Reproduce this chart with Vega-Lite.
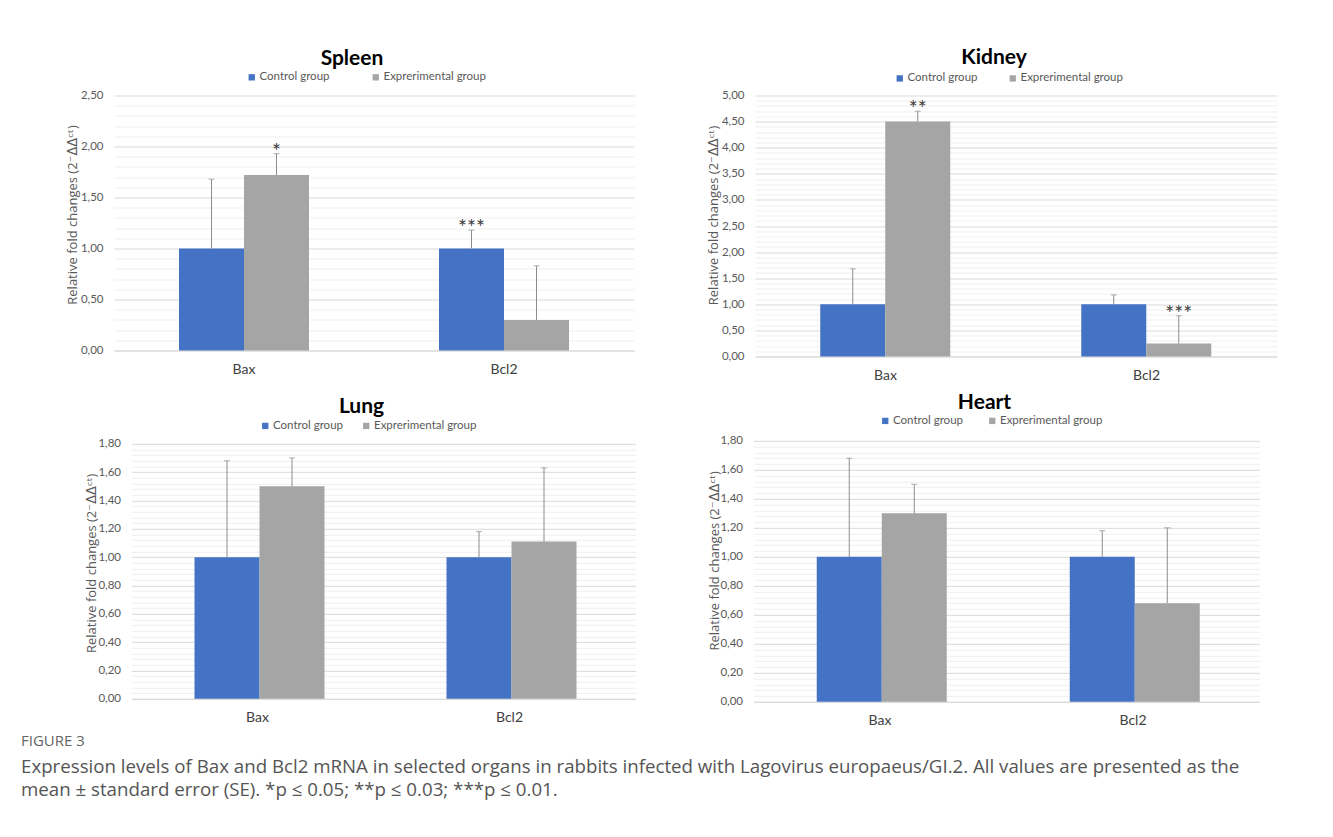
{
  "$schema": "https://vega.github.io/schema/vega-lite/v6.json",
  "padding": {"left": 20, "top": 46.5, "right": 5, "bottom": 5},
  "background": "white",
  "datasets": {
    "spleen": [
      {"gene": "Bax", "group": "Control group", "value": 1.00, "upper": 1.68, "sig": ""},
      {"gene": "Bax", "group": "Exprerimental group", "value": 1.72, "upper": 1.93, "sig": "*"},
      {"gene": "Bcl2", "group": "Control group", "value": 1.00, "upper": 1.18, "sig": "***"},
      {"gene": "Bcl2", "group": "Exprerimental group", "value": 0.30, "upper": 0.83, "sig": ""}
    ],
    "kidney": [
      {"gene": "Bax", "group": "Control group", "value": 1.00, "upper": 1.68, "sig": ""},
      {"gene": "Bax", "group": "Exprerimental group", "value": 4.50, "upper": 4.70, "sig": "**"},
      {"gene": "Bcl2", "group": "Control group", "value": 1.00, "upper": 1.18, "sig": ""},
      {"gene": "Bcl2", "group": "Exprerimental group", "value": 0.25, "upper": 0.78, "sig": "***"}
    ],
    "lung": [
      {"gene": "Bax", "group": "Control group", "value": 1.00, "upper": 1.68, "sig": ""},
      {"gene": "Bax", "group": "Exprerimental group", "value": 1.50, "upper": 1.70, "sig": ""},
      {"gene": "Bcl2", "group": "Control group", "value": 1.00, "upper": 1.18, "sig": ""},
      {"gene": "Bcl2", "group": "Exprerimental group", "value": 1.11, "upper": 1.63, "sig": ""}
    ],
    "heart": [
      {"gene": "Bax", "group": "Control group", "value": 1.00, "upper": 1.68, "sig": ""},
      {"gene": "Bax", "group": "Exprerimental group", "value": 1.30, "upper": 1.50, "sig": ""},
      {"gene": "Bcl2", "group": "Control group", "value": 1.00, "upper": 1.18, "sig": ""},
      {"gene": "Bcl2", "group": "Exprerimental group", "value": 0.68, "upper": 1.20, "sig": ""}
    ]
  },
  "title": {
    "text": "FIGURE 3",
    "subtitle": [
      "Expression levels of Bax and Bcl2 mRNA in selected organs in rabbits infected with Lagovirus europaeus/GI.2. All values are presented as the",
      "mean ± standard error (SE). *p ≤ 0.05; **p ≤ 0.03; ***p ≤ 0.01."
    ],
    "orient": "bottom",
    "anchor": "start",
    "frame": "bounds",
    "dx": -45,
    "offset": 6.5,
    "font": "Open Sans",
    "fontSize": 15,
    "fontWeight": "normal",
    "color": "#666666",
    "subtitleFont": "Open Sans",
    "subtitleFontSize": 18.7,
    "subtitleColor": "#555555",
    "subtitleLineHeight": 23,
    "subtitlePadding": 9
  },
  "vconcat": [
    {
      "hconcat": [
        {
          "data": {"name": "spleen"},
          "width": 520,
          "height": 255,
          "title": {"text": "Spleen", "offset": 1.8},
          "encoding": {
            "x": {"field": "gene", "type": "nominal", "title": null, "scale": {"paddingInner": 0.5, "paddingOuter": 0.25}},
            "xOffset": {"field": "group", "type": "nominal", "sort": ["Control group", "Exprerimental group"], "scale": {"paddingInner": 0, "paddingOuter": 0}}
          },
          "layer": [
            {
              "mark": {"type": "bar"},
              "encoding": {
                "y": {"field": "value", "type": "quantitative", "title": "Relative fold changes (2⁻ᐃᐃᶜᵗ)", "scale": {"domain": [0, 2.5], "nice": false},
                  "axis": {"values": [0,0.1,0.2,0.3,0.4,0.5,0.6,0.7,0.8,0.9,1,1.1,1.2,1.3,1.4,1.5,1.6,1.7,1.8,1.9,2,2.1,2.2,2.3,2.4,2.5], "labelExpr": "abs(datum.value*2 - round(datum.value*2)) < 0.001 ? replace(format(datum.value, '.2f'), '.', ',') : ''", "gridColor": {"condition": {"test": "abs(datum.value*2 - round(datum.value*2)) < 0.001", "value": "#d9d9d9"}, "value": "#efefef"}, "titleX": -35, "titleY": 119}},
                "color": {"field": "group", "type": "nominal", "scale": {"domain": ["Control group", "Exprerimental group"], "range": ["#4472C4", "#A5A5A5"]},
                  "legend": {"orient": "none", "legendX": 132, "legendY": -24.3, "columnPadding": 40}}
              }
            },
            {"mark": {"type": "rule", "color": "#8c8c8c", "strokeWidth": 1}, "encoding": {
              "y": {"field": "value", "type": "quantitative", "title": "Relative fold changes (2⁻ᐃᐃᶜᵗ)", "scale": {"domain": [0, 2.5], "nice": false},
                "axis": {"values": [0,0.1,0.2,0.3,0.4,0.5,0.6,0.7,0.8,0.9,1,1.1,1.2,1.3,1.4,1.5,1.6,1.7,1.8,1.9,2,2.1,2.2,2.3,2.4,2.5], "labelExpr": "abs(datum.value*2 - round(datum.value*2)) < 0.001 ? replace(format(datum.value, '.2f'), '.', ',') : ''", "gridColor": {"condition": {"test": "abs(datum.value*2 - round(datum.value*2)) < 0.001", "value": "#d9d9d9"}, "value": "#efefef"}, "titleX": -35, "titleY": 119}},
              "y2": {"field": "upper"}}},
            {"mark": {"type": "tick", "orient": "horizontal", "size": 6, "thickness": 1, "color": "#8c8c8c"}, "encoding": {
              "y": {"field": "upper", "type": "quantitative", "title": "Relative fold changes (2⁻ᐃᐃᶜᵗ)", "scale": {"domain": [0, 2.5], "nice": false},
                "axis": {"values": [0,0.1,0.2,0.3,0.4,0.5,0.6,0.7,0.8,0.9,1,1.1,1.2,1.3,1.4,1.5,1.6,1.7,1.8,1.9,2,2.1,2.2,2.3,2.4,2.5], "labelExpr": "abs(datum.value*2 - round(datum.value*2)) < 0.001 ? replace(format(datum.value, '.2f'), '.', ',') : ''", "gridColor": {"condition": {"test": "abs(datum.value*2 - round(datum.value*2)) < 0.001", "value": "#d9d9d9"}, "value": "#efefef"}, "titleX": -35, "titleY": 119}}}},
            {"mark": {"type": "text", "fontSize": 21, "color": "#404040", "baseline": "alphabetic", "dy": 5}, "encoding": {
              "y": {"field": "upper", "type": "quantitative", "title": "Relative fold changes (2⁻ᐃᐃᶜᵗ)", "scale": {"domain": [0, 2.5], "nice": false},
                "axis": {"values": [0,0.1,0.2,0.3,0.4,0.5,0.6,0.7,0.8,0.9,1,1.1,1.2,1.3,1.4,1.5,1.6,1.7,1.8,1.9,2,2.1,2.2,2.3,2.4,2.5], "labelExpr": "abs(datum.value*2 - round(datum.value*2)) < 0.001 ? replace(format(datum.value, '.2f'), '.', ',') : ''", "gridColor": {"condition": {"test": "abs(datum.value*2 - round(datum.value*2)) < 0.001", "value": "#d9d9d9"}, "value": "#efefef"}, "titleX": -35, "titleY": 119}},
              "text": {"field": "sig"}}}
          ]
        },
        {
          "data": {"name": "kidney"},
          "width": 522,
          "height": 261,
          "title": {"text": "Kidney", "offset": 4.3},
          "encoding": {
            "x": {"field": "gene", "type": "nominal", "title": null, "scale": {"paddingInner": 0.5, "paddingOuter": 0.25}},
            "xOffset": {"field": "group", "type": "nominal", "sort": ["Control group", "Exprerimental group"], "scale": {"paddingInner": 0, "paddingOuter": 0}}
          },
          "layer": [
            {
              "mark": {"type": "bar"},
              "encoding": {
                "y": {"field": "value", "type": "quantitative", "title": "Relative fold changes (2⁻ᐃᐃᶜᵗ)", "scale": {"domain": [0, 5], "nice": false},
                  "axis": {"values": [0,0.1,0.2,0.3,0.4,0.5,0.6,0.7,0.8,0.9,1,1.1,1.2,1.3,1.4,1.5,1.6,1.7,1.8,1.9,2,2.1,2.2,2.3,2.4,2.5,2.6,2.7,2.8,2.9,3,3.1,3.2,3.3,3.4,3.5,3.6,3.7,3.8,3.9,4,4.1,4.2,4.3,4.4,4.5,4.6,4.7,4.8,4.9,5], "labelExpr": "abs(datum.value*2 - round(datum.value*2)) < 0.001 ? replace(format(datum.value, '.2f'), '.', ',') : ''", "gridColor": {"condition": {"test": "abs(datum.value*2 - round(datum.value*2)) < 0.001", "value": "#d9d9d9"}, "value": "#efefef"}, "titleX": -35, "titleY": 119.5}},
                "color": {"field": "group", "type": "nominal", "scale": {"domain": ["Control group", "Exprerimental group"], "range": ["#4472C4", "#A5A5A5"]},
                  "legend": {"orient": "none", "legendX": 139, "legendY": -23.2, "columnPadding": 29}}
              }
            },
            {"mark": {"type": "rule", "color": "#8c8c8c", "strokeWidth": 1}, "encoding": {
              "y": {"field": "value", "type": "quantitative", "title": "Relative fold changes (2⁻ᐃᐃᶜᵗ)", "scale": {"domain": [0, 5], "nice": false},
                "axis": {"values": [0,0.1,0.2,0.3,0.4,0.5,0.6,0.7,0.8,0.9,1,1.1,1.2,1.3,1.4,1.5,1.6,1.7,1.8,1.9,2,2.1,2.2,2.3,2.4,2.5,2.6,2.7,2.8,2.9,3,3.1,3.2,3.3,3.4,3.5,3.6,3.7,3.8,3.9,4,4.1,4.2,4.3,4.4,4.5,4.6,4.7,4.8,4.9,5], "labelExpr": "abs(datum.value*2 - round(datum.value*2)) < 0.001 ? replace(format(datum.value, '.2f'), '.', ',') : ''", "gridColor": {"condition": {"test": "abs(datum.value*2 - round(datum.value*2)) < 0.001", "value": "#d9d9d9"}, "value": "#efefef"}, "titleX": -35, "titleY": 119.5}},
              "y2": {"field": "upper"}}},
            {"mark": {"type": "tick", "orient": "horizontal", "size": 6, "thickness": 1, "color": "#8c8c8c"}, "encoding": {
              "y": {"field": "upper", "type": "quantitative", "title": "Relative fold changes (2⁻ᐃᐃᶜᵗ)", "scale": {"domain": [0, 5], "nice": false},
                "axis": {"values": [0,0.1,0.2,0.3,0.4,0.5,0.6,0.7,0.8,0.9,1,1.1,1.2,1.3,1.4,1.5,1.6,1.7,1.8,1.9,2,2.1,2.2,2.3,2.4,2.5,2.6,2.7,2.8,2.9,3,3.1,3.2,3.3,3.4,3.5,3.6,3.7,3.8,3.9,4,4.1,4.2,4.3,4.4,4.5,4.6,4.7,4.8,4.9,5], "labelExpr": "abs(datum.value*2 - round(datum.value*2)) < 0.001 ? replace(format(datum.value, '.2f'), '.', ',') : ''", "gridColor": {"condition": {"test": "abs(datum.value*2 - round(datum.value*2)) < 0.001", "value": "#d9d9d9"}, "value": "#efefef"}, "titleX": -35, "titleY": 119.5}}}},
            {"mark": {"type": "text", "fontSize": 21, "color": "#404040", "baseline": "alphabetic", "dy": 5}, "encoding": {
              "y": {"field": "upper", "type": "quantitative", "title": "Relative fold changes (2⁻ᐃᐃᶜᵗ)", "scale": {"domain": [0, 5], "nice": false},
                "axis": {"values": [0,0.1,0.2,0.3,0.4,0.5,0.6,0.7,0.8,0.9,1,1.1,1.2,1.3,1.4,1.5,1.6,1.7,1.8,1.9,2,2.1,2.2,2.3,2.4,2.5,2.6,2.7,2.8,2.9,3,3.1,3.2,3.3,3.4,3.5,3.6,3.7,3.8,3.9,4,4.1,4.2,4.3,4.4,4.5,4.6,4.7,4.8,4.9,5], "labelExpr": "abs(datum.value*2 - round(datum.value*2)) < 0.001 ? replace(format(datum.value, '.2f'), '.', ',') : ''", "gridColor": {"condition": {"test": "abs(datum.value*2 - round(datum.value*2)) < 0.001", "value": "#d9d9d9"}, "value": "#efefef"}, "titleX": -35, "titleY": 119.5}},
              "text": {"field": "sig"}}}
          ]
        }
      ],
      "spacing": 121,
      "center": false,
      "bounds": "flush",
      "resolve": {"scale": {"color": "independent"}, "legend": {"color": "independent"}}
    },
    {
      "hconcat": [
        {
          "data": {"name": "lung"},
          "width": 504,
          "height": 255,
          "title": {"text": "Lung", "offset": 3},
          "encoding": {
            "x": {"field": "gene", "type": "nominal", "title": null, "scale": {"paddingInner": 0.5, "paddingOuter": 0.25}},
            "xOffset": {"field": "group", "type": "nominal", "sort": ["Control group", "Exprerimental group"], "scale": {"paddingInner": 0, "paddingOuter": 0}}
          },
          "layer": [
            {
              "mark": {"type": "bar"},
              "encoding": {
                "y": {"field": "value", "type": "quantitative", "title": "Relative fold changes (2⁻ᐃᐃᶜᵗ)", "scale": {"domain": [0, 1.8], "nice": false},
                  "axis": {"values": [0,0.04,0.08,0.12,0.16,0.2,0.24,0.28,0.32,0.36,0.4,0.44,0.48,0.52,0.56,0.6,0.64,0.68,0.72,0.76,0.8,0.84,0.88,0.92,0.96,1,1.04,1.08,1.12,1.16,1.2,1.24,1.28,1.32,1.36,1.4,1.44,1.48,1.52,1.56,1.6,1.64,1.68,1.72,1.76,1.8], "labelExpr": "abs(datum.value*5 - round(datum.value*5)) < 0.001 ? replace(format(datum.value, '.2f'), '.', ',') : ''", "gridColor": {"condition": {"test": "abs(datum.value*5 - round(datum.value*5)) < 0.001", "value": "#d9d9d9"}, "value": "#efefef"}, "titleX": -33, "titleY": 119}},
                "color": {"field": "group", "type": "nominal", "scale": {"domain": ["Control group", "Exprerimental group"], "range": ["#4472C4", "#A5A5A5"]},
                  "legend": {"orient": "none", "legendX": 128, "legendY": -24, "columnPadding": 17}}
              }
            },
            {"mark": {"type": "rule", "color": "#8c8c8c", "strokeWidth": 1}, "encoding": {
              "y": {"field": "value", "type": "quantitative", "title": "Relative fold changes (2⁻ᐃᐃᶜᵗ)", "scale": {"domain": [0, 1.8], "nice": false},
                "axis": {"values": [0,0.04,0.08,0.12,0.16,0.2,0.24,0.28,0.32,0.36,0.4,0.44,0.48,0.52,0.56,0.6,0.64,0.68,0.72,0.76,0.8,0.84,0.88,0.92,0.96,1,1.04,1.08,1.12,1.16,1.2,1.24,1.28,1.32,1.36,1.4,1.44,1.48,1.52,1.56,1.6,1.64,1.68,1.72,1.76,1.8], "labelExpr": "abs(datum.value*5 - round(datum.value*5)) < 0.001 ? replace(format(datum.value, '.2f'), '.', ',') : ''", "gridColor": {"condition": {"test": "abs(datum.value*5 - round(datum.value*5)) < 0.001", "value": "#d9d9d9"}, "value": "#efefef"}, "titleX": -33, "titleY": 119}},
              "y2": {"field": "upper"}}},
            {"mark": {"type": "tick", "orient": "horizontal", "size": 6, "thickness": 1, "color": "#8c8c8c"}, "encoding": {
              "y": {"field": "upper", "type": "quantitative", "title": "Relative fold changes (2⁻ᐃᐃᶜᵗ)", "scale": {"domain": [0, 1.8], "nice": false},
                "axis": {"values": [0,0.04,0.08,0.12,0.16,0.2,0.24,0.28,0.32,0.36,0.4,0.44,0.48,0.52,0.56,0.6,0.64,0.68,0.72,0.76,0.8,0.84,0.88,0.92,0.96,1,1.04,1.08,1.12,1.16,1.2,1.24,1.28,1.32,1.36,1.4,1.44,1.48,1.52,1.56,1.6,1.64,1.68,1.72,1.76,1.8], "labelExpr": "abs(datum.value*5 - round(datum.value*5)) < 0.001 ? replace(format(datum.value, '.2f'), '.', ',') : ''", "gridColor": {"condition": {"test": "abs(datum.value*5 - round(datum.value*5)) < 0.001", "value": "#d9d9d9"}, "value": "#efefef"}, "titleX": -33, "titleY": 119}}}}
          ]
        },
        {
          "data": {"name": "heart"},
          "width": 506,
          "height": 261,
          "title": {"text": "Heart", "offset": 2.2},
          "encoding": {
            "x": {"field": "gene", "type": "nominal", "title": null, "scale": {"paddingInner": 0.5, "paddingOuter": 0.25}},
            "xOffset": {"field": "group", "type": "nominal", "sort": ["Control group", "Exprerimental group"], "scale": {"paddingInner": 0, "paddingOuter": 0}}
          },
          "layer": [
            {
              "mark": {"type": "bar"},
              "encoding": {
                "y": {"field": "value", "type": "quantitative", "title": "Relative fold changes (2⁻ᐃᐃᶜᵗ)", "scale": {"domain": [0, 1.8], "nice": false},
                  "axis": {"values": [0,0.04,0.08,0.12,0.16,0.2,0.24,0.28,0.32,0.36,0.4,0.44,0.48,0.52,0.56,0.6,0.64,0.68,0.72,0.76,0.8,0.84,0.88,0.92,0.96,1,1.04,1.08,1.12,1.16,1.2,1.24,1.28,1.32,1.36,1.4,1.44,1.48,1.52,1.56,1.6,1.64,1.68,1.72,1.76,1.8], "labelExpr": "abs(datum.value*5 - round(datum.value*5)) < 0.001 ? replace(format(datum.value, '.2f'), '.', ',') : ''", "gridColor": {"condition": {"test": "abs(datum.value*5 - round(datum.value*5)) < 0.001", "value": "#d9d9d9"}, "value": "#efefef"}, "titleX": -32, "titleY": 119.5}},
                "color": {"field": "group", "type": "nominal", "scale": {"domain": ["Control group", "Exprerimental group"], "range": ["#4472C4", "#A5A5A5"]},
                  "legend": {"orient": "none", "legendX": 126, "legendY": -26, "columnPadding": 23}}
              }
            },
            {"mark": {"type": "rule", "color": "#8c8c8c", "strokeWidth": 1}, "encoding": {
              "y": {"field": "value", "type": "quantitative", "title": "Relative fold changes (2⁻ᐃᐃᶜᵗ)", "scale": {"domain": [0, 1.8], "nice": false},
                "axis": {"values": [0,0.04,0.08,0.12,0.16,0.2,0.24,0.28,0.32,0.36,0.4,0.44,0.48,0.52,0.56,0.6,0.64,0.68,0.72,0.76,0.8,0.84,0.88,0.92,0.96,1,1.04,1.08,1.12,1.16,1.2,1.24,1.28,1.32,1.36,1.4,1.44,1.48,1.52,1.56,1.6,1.64,1.68,1.72,1.76,1.8], "labelExpr": "abs(datum.value*5 - round(datum.value*5)) < 0.001 ? replace(format(datum.value, '.2f'), '.', ',') : ''", "gridColor": {"condition": {"test": "abs(datum.value*5 - round(datum.value*5)) < 0.001", "value": "#d9d9d9"}, "value": "#efefef"}, "titleX": -32, "titleY": 119.5}},
              "y2": {"field": "upper"}}},
            {"mark": {"type": "tick", "orient": "horizontal", "size": 6, "thickness": 1, "color": "#8c8c8c"}, "encoding": {
              "y": {"field": "upper", "type": "quantitative", "title": "Relative fold changes (2⁻ᐃᐃᶜᵗ)", "scale": {"domain": [0, 1.8], "nice": false},
                "axis": {"values": [0,0.04,0.08,0.12,0.16,0.2,0.24,0.28,0.32,0.36,0.4,0.44,0.48,0.52,0.56,0.6,0.64,0.68,0.72,0.76,0.8,0.84,0.88,0.92,0.96,1,1.04,1.08,1.12,1.16,1.2,1.24,1.28,1.32,1.36,1.4,1.44,1.48,1.52,1.56,1.6,1.64,1.68,1.72,1.76,1.8], "labelExpr": "abs(datum.value*5 - round(datum.value*5)) < 0.001 ? replace(format(datum.value, '.2f'), '.', ',') : ''", "gridColor": {"condition": {"test": "abs(datum.value*5 - round(datum.value*5)) < 0.001", "value": "#d9d9d9"}, "value": "#efefef"}, "titleX": -32, "titleY": 119.5}}}}
          ]
        }
      ],
      "spacing": 118,
      "center": true,
      "bounds": "flush",
      "resolve": {"scale": {"color": "independent"}, "legend": {"color": "independent"}}
    }
  ],
  "spacing": 8.3,
  "center": true,
  "bounds": "full",
  "resolve": {"scale": {"color": "independent"}, "legend": {"color": "independent"}},
  "config": {
    "view": {"stroke": null},
    "font": "Lato",
    "bar": {"stroke": null},
    "axis": {
      "ticks": false,
      "labelFont": "Lato",
      "labelFontSize": 11.5,
      "labelColor": "#595959",
      "labelPadding": 11,
      "titleFont": "Open Sans, DejaVu Sans",
      "titleFontSize": 13,
      "titleFontWeight": "normal",
      "titleColor": "#595959"
    },
    "axisY": {"domain": false, "grid": true, "gridWidth": 1},
    "axisX": {"domain": true, "domainColor": "#d9d9d9", "grid": false, "labelAngle": 0, "labelFontSize": 14, "labelColor": "#404040", "labelPadding": 12},
    "legend": {
      "direction": "horizontal",
      "title": null,
      "symbolType": "square",
      "symbolSize": 40,
      "symbolStrokeWidth": 0,
      "labelFont": "Lato",
      "labelFontSize": 11.5,
      "labelColor": "#595959",
      "labelOffset": 2,
      "padding": 0
    },
    "title": {
      "font": "Lato",
      "fontSize": 21,
      "fontWeight": "bold",
      "color": "#000000",
      "anchor": "middle",
      "frame": "group",
      "dx": -22
    }
  }
}
